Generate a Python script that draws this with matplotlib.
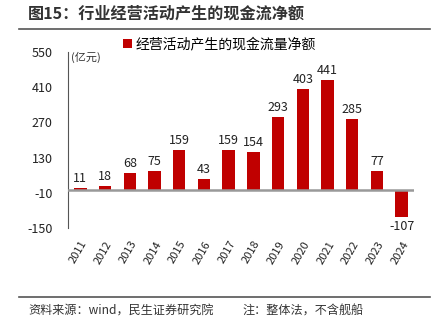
import matplotlib
matplotlib.use('Agg')
import matplotlib.pyplot as plt
from matplotlib.lines import Line2D

plt.rcParams['font.family'] = ['Noto Sans CJK SC', 'DejaVu Sans']

# data (亿元)
years = ['2011', '2012', '2013', '2014', '2015', '2016', '2017',
         '2018', '2019', '2020', '2021', '2022', '2023', '2024']
cash_flow = [11, 18, 68, 75, 159, 43, 159, 154, 293, 403, 441, 285, 77, -107]
y_ticks = [-150, -10, 130, 270, 410, 550]

fig = plt.figure(figsize=(4.39, 3.28), dpi=100)
ax = fig.add_axes([0.155, 0.305, 0.788, 0.536])

x = range(len(years))
ax.bar(x, cash_flow, width=0.5, color='#C00000', zorder=2,
       label='经营活动产生的现金流量净额')

# value labels
for xi, v in zip(x, cash_flow):
    if v >= 0:
        ax.text(xi, v + 12, str(v), ha='center', va='bottom', fontsize=9, color='#222222')
    else:
        ax.text(xi, v - 12, str(v), ha='center', va='top', fontsize=9, color='#222222')

ax.set_xlim(-0.5, len(years) - 0.5)
ax.set_ylim(-150, 550)
ax.set_yticks(y_ticks)
ax.set_yticklabels([str(t) for t in y_ticks], fontsize=9, color='#222222')
ax.set_xticks(list(x))
ax.set_xticklabels(years, rotation=60, ha='right', rotation_mode='anchor',
                   fontsize=8, color='#222222')
ax.tick_params(axis='y', length=0, pad=11)
ax.tick_params(axis='x', length=0, pad=8)

for s in ['top', 'right', 'bottom']:
    ax.spines[s].set_visible(False)
ax.spines['left'].set_color('#555555')
ax.spines['left'].set_linewidth(0.8)
ax.axhline(0, color='#999999', linewidth=1.8, zorder=3)

ax.text(0.008, 1.0, '(亿元)', transform=ax.transAxes, fontsize=8, color='#333333',
        ha='left', va='top')

leg = ax.legend(loc='center left', bbox_to_anchor=(0.14, 1.045), frameon=False,
                fontsize=10, handlelength=0.6, handleheight=0.6, handletextpad=0.3,
                borderpad=0)

# title and footer
fig.text(0.064, 0.958, '图15：行业经营活动产生的现金流净额', fontsize=11.6,
         fontweight='bold', color='#333333', va='center', ha='left')
fig.add_artist(Line2D([0.043, 0.98], [0.913, 0.913], color='#555555', linewidth=1.2))
fig.add_artist(Line2D([0.043, 0.98], [0.094, 0.094], color='#555555', linewidth=1.2))
fig.text(0.064, 0.053, '资料来源：wind，民生证券研究院', fontsize=8.7, color='#333333',
         va='center', ha='left')
fig.text(0.553, 0.053, '注：整体法，不含舰船', fontsize=8.7, color='#333333',
         va='center', ha='left')

fig.savefig('out.png', dpi=100)
